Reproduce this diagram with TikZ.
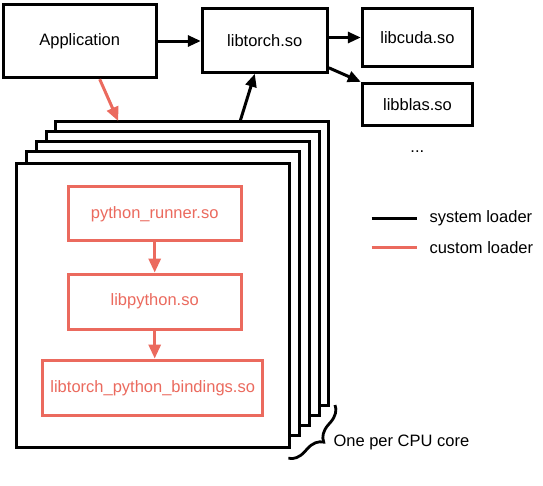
\documentclass[tikz,border=0pt]{standalone}
\usepackage{fontspec}
\setmainfont{Liberation Sans}
\usetikzlibrary{arrows.meta,decorations.pathreplacing}
\definecolor{loaderred}{RGB}{235,106,94}
\tikzset{
  libfont/.style={font=\fontsize{16.5}{19}\selectfont},
  libbox/.style={draw, line width=3pt, inner sep=0pt, libfont},
  custombox/.style={libbox, draw=loaderred, text=loaderred},
  corebox/.style={draw, line width=3pt, fill=white, outer sep=0pt,
    minimum width=273pt, minimum height=284pt, anchor=north west},
  sysload/.style={line width=3pt, -{Triangle[length=13pt,width=11pt]}},
  custload/.style={line width=3pt, draw=loaderred, -{Triangle[length=14pt,width=12pt]}},
  legendtext/.style={anchor=west, inner sep=0pt, libfont},
}
\begin{document}
\begin{tikzpicture}[x=1pt, y=-1pt]
  \useasboundingbox (0,0) rectangle (543,485);
  %
  % top row: application and system libraries
  \node[libbox, minimum width=152.7pt, minimum height=73.4pt] (app) at (79.7,41) {Application};
  \node[libbox, minimum width=125pt, minimum height=64pt] (libtorch) at (264.8,40.3) {libtorch.so};
  \node[libbox, minimum width=110.4pt, minimum height=58.4pt] (libcuda) at (417.5,37.5) {libcuda.so};
  \node[libbox, minimum width=110.4pt, minimum height=41.7pt] (libblas) at (417.5,104.2) {libblas.so};
  \node[libfont, anchor=base] (more) at (417.3,152.5) {...};
  %
  % stack of cores, back to front
  \foreach \i/\cx/\cy in {1/55.7/121, 2/46/131, 3/36/141, 4/26/151, 5/16.7/163.3}
    \node[corebox] (core\i) at (\cx,\cy) {};
  %
  % loaders inside the front core
  \node[custombox, minimum width=172.7pt, minimum height=54.3pt] (runner) at (154.7,213.8) {python\_runner.so};
  \node[custombox, minimum width=172.7pt, minimum height=55.3pt] (libpython) at (154.7,301.7) {libpython.so};
  \node[custombox, minimum width=220pt, minimum height=55.5pt] (bindings) at (152.7,387.8) {libtorch\_python\_bindings.so};
  %
  % system loader arrows
  \draw[sysload] (app.east) -- (app.east -| libtorch.west);
  \draw[sysload] (libtorch.east |- libcuda.west) -- (libcuda.west);
  \draw[sysload] ([yshift=6pt]libtorch.south east) -- (libblas.north west);
  \draw[sysload] ([xshift=48pt]core1.north) -- ([xshift=-10pt]libtorch.south);
  %
  % custom loader arrows
  \draw[custload] ([xshift=20pt]app.south) -- ([xshift=-74pt]core1.north);
  \draw[custload] (runner) -- (runner |- libpython.north);
  \draw[custload] (libpython) -- (libpython |- bindings.north);
  %
  % legend
  \coordinate (sysA) at (371.7,218.3);
  \coordinate (sysB) at (417.3,218.3);
  \coordinate (cusA) at (371.7,247.3);
  \coordinate (cusB) at (417.3,247.3);
  \draw[line width=3pt] (sysA) -- (sysB);
  \draw[line width=3pt, loaderred] (cusA) -- (cusB);
  \node[legendtext] (syslabel) at (429.3,218.3) {system loader};
  \node[legendtext] (cuslabel) at (429.3,247.3) {custom loader};
  %
  % brace for the stack
  \coordinate (bracetop) at (335,405);
  \coordinate (bracebot) at (288.3,458.3);
  \draw[line width=2.8pt, decorate, decoration={brace, amplitude=16pt}] (bracetop) -- (bracebot);
  \node[legendtext] (corelabel) at (333.3,442) {One per CPU core};
\end{tikzpicture}
\end{document}
